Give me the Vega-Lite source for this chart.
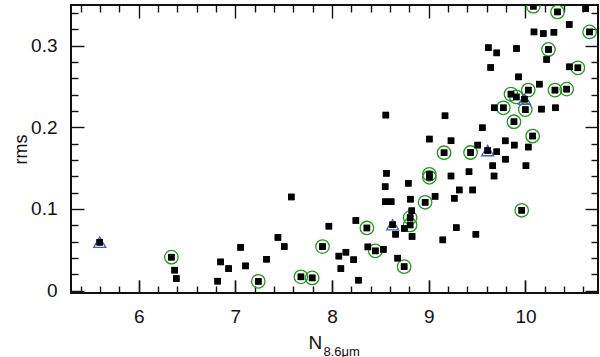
{
  "$schema": "https://vega.github.io/schema/vega-lite/v6.json",
  "width": 527,
  "height": 288,
  "autosize": {"type": "none"},
  "padding": {"left": 71, "top": 5, "right": 2, "bottom": 64},
  "config": {
    "view": {"stroke": "#111", "strokeWidth": 2},
    "font": "Liberation Sans",
    "axis": {"domain": false, "grid": false, "tickColor": "#111", "tickWidth": 1.4, "labelColor": "#111", "titleColor": "#111", "labelFont": "Liberation Sans", "titleFont": "Liberation Sans", "titleFontWeight": "normal", "zindex": 1}
  },
  "data": {"values": [
    {"x": 5.597, "y": 0.0592, "m": "t"},
    {"x": 8.626, "y": 0.0807, "m": "t"},
    {"x": 9.609, "y": 0.1716, "m": "t"},
    {"x": 9.99, "y": 0.2346, "m": "t"},
    {"x": 6.338, "y": 0.0409, "m": "c"},
    {"x": 7.237, "y": 0.0113, "m": "c"},
    {"x": 7.678, "y": 0.0168, "m": "c"},
    {"x": 7.794, "y": 0.0155, "m": "c"},
    {"x": 7.901, "y": 0.0539, "m": "c"},
    {"x": 8.36, "y": 0.0767, "m": "c"},
    {"x": 8.447, "y": 0.0486, "m": "c"},
    {"x": 8.745, "y": 0.0293, "m": "c"},
    {"x": 8.807, "y": 0.0894, "m": "c"},
    {"x": 8.807, "y": 0.0804, "m": "c"},
    {"x": 8.962, "y": 0.1082, "m": "c"},
    {"x": 9.006, "y": 0.1425, "m": "c"},
    {"x": 9.006, "y": 0.1388, "m": "c"},
    {"x": 9.158, "y": 0.1689, "m": "c"},
    {"x": 9.432, "y": 0.1692, "m": "c"},
    {"x": 9.961, "y": 0.0984, "m": "c"},
    {"x": 10.074, "y": 0.1894, "m": "c"},
    {"x": 9.881, "y": 0.2069, "m": "c"},
    {"x": 9.771, "y": 0.224, "m": "c"},
    {"x": 9.998, "y": 0.2218, "m": "c"},
    {"x": 9.85, "y": 0.2408, "m": "c"},
    {"x": 9.905, "y": 0.2373, "m": "c"},
    {"x": 10.029, "y": 0.2457, "m": "c"},
    {"x": 10.305, "y": 0.2457, "m": "c"},
    {"x": 10.426, "y": 0.2469, "m": "c"},
    {"x": 10.238, "y": 0.2955, "m": "c"},
    {"x": 10.542, "y": 0.273, "m": "c"},
    {"x": 10.663, "y": 0.317, "m": "c"},
    {"x": 10.331, "y": 0.3415, "m": "c"},
    {"x": 10.081, "y": 0.3485, "m": "c"},
    {"x": 6.372, "y": 0.025, "m": "s"},
    {"x": 6.389, "y": 0.0147, "m": "s"},
    {"x": 6.816, "y": 0.0115, "m": "s"},
    {"x": 6.847, "y": 0.0351, "m": "s"},
    {"x": 6.93, "y": 0.0269, "m": "s"},
    {"x": 7.054, "y": 0.0529, "m": "s"},
    {"x": 7.105, "y": 0.0302, "m": "s"},
    {"x": 7.322, "y": 0.0384, "m": "s"},
    {"x": 7.44, "y": 0.0651, "m": "s"},
    {"x": 7.505, "y": 0.0539, "m": "s"},
    {"x": 7.578, "y": 0.1147, "m": "s"},
    {"x": 7.967, "y": 0.0789, "m": "s"},
    {"x": 8.07, "y": 0.0422, "m": "s"},
    {"x": 8.091, "y": 0.0269, "m": "s"},
    {"x": 8.143, "y": 0.047, "m": "s"},
    {"x": 8.223, "y": 0.0378, "m": "s"},
    {"x": 8.246, "y": 0.0859, "m": "s"},
    {"x": 8.273, "y": 0.0127, "m": "s"},
    {"x": 8.37, "y": 0.0535, "m": "s"},
    {"x": 8.53, "y": 0.0504, "m": "s"},
    {"x": 8.556, "y": 0.2151, "m": "s"},
    {"x": 8.549, "y": 0.1273, "m": "s"},
    {"x": 8.562, "y": 0.1437, "m": "s"},
    {"x": 8.552, "y": 0.1089, "m": "s"},
    {"x": 8.611, "y": 0.1089, "m": "s"},
    {"x": 8.657, "y": 0.069, "m": "s"},
    {"x": 8.678, "y": 0.0397, "m": "s"},
    {"x": 8.748, "y": 0.0761, "m": "s"},
    {"x": 8.788, "y": 0.1315, "m": "s"},
    {"x": 8.81, "y": 0.112, "m": "s"},
    {"x": 8.824, "y": 0.0978, "m": "s"},
    {"x": 8.827, "y": 0.0663, "m": "s"},
    {"x": 9.065, "y": 0.1155, "m": "s"},
    {"x": 9.145, "y": 0.0621, "m": "s"},
    {"x": 9.23, "y": 0.1404, "m": "s"},
    {"x": 9.264, "y": 0.1131, "m": "s"},
    {"x": 9.315, "y": 0.1233, "m": "s"},
    {"x": 9.284, "y": 0.0771, "m": "s"},
    {"x": 9.416, "y": 0.1457, "m": "s"},
    {"x": 9.454, "y": 0.1233, "m": "s"},
    {"x": 9.487, "y": 0.069, "m": "s"},
    {"x": 9.506, "y": 0.1783, "m": "s"},
    {"x": 9.675, "y": 0.1404, "m": "s"},
    {"x": 9.703, "y": 0.1701, "m": "s"},
    {"x": 9.661, "y": 0.153, "m": "s"},
    {"x": 9.793, "y": 0.161, "m": "s"},
    {"x": 10.005, "y": 0.153, "m": "s"},
    {"x": 9.006, "y": 0.1857, "m": "s"},
    {"x": 9.23, "y": 0.1836, "m": "s"},
    {"x": 9.791, "y": 0.1835, "m": "s"},
    {"x": 9.884, "y": 0.1783, "m": "s"},
    {"x": 10.029, "y": 0.1759, "m": "s"},
    {"x": 9.168, "y": 0.2142, "m": "s"},
    {"x": 9.554, "y": 0.1995, "m": "s"},
    {"x": 9.678, "y": 0.224, "m": "s"},
    {"x": 10.165, "y": 0.2224, "m": "s"},
    {"x": 10.31, "y": 0.224, "m": "s"},
    {"x": 10.143, "y": 0.253, "m": "s"},
    {"x": 9.928, "y": 0.2619, "m": "s"},
    {"x": 9.64, "y": 0.2734, "m": "s"},
    {"x": 10.455, "y": 0.2742, "m": "s"},
    {"x": 10.219, "y": 0.2832, "m": "s"},
    {"x": 9.616, "y": 0.2977, "m": "s"},
    {"x": 9.703, "y": 0.2913, "m": "s"},
    {"x": 9.907, "y": 0.2967, "m": "s"},
    {"x": 10.088, "y": 0.317, "m": "s"},
    {"x": 10.184, "y": 0.315, "m": "s"},
    {"x": 10.294, "y": 0.3166, "m": "s"},
    {"x": 10.452, "y": 0.3261, "m": "s"},
    {"x": 10.622, "y": 0.3457, "m": "s"}
  ]},
  "resolve": {"axis": {"x": "independent", "y": "independent"}},
  "layer": [
    {
      "mark": {"type": "point", "shape": "square", "filled": true, "color": "#000", "size": 42, "opacity": 1, "clip": true},
      "encoding": {
        "x": {"field": "x", "type": "quantitative", "scale": {"domain": [5.3, 10.75], "nice": false, "zero": false},
          "axis": {"orient": "bottom", "values": [6, 7, 8, 9, 10], "ticks": true, "tickSize": -13, "labelPadding": 27, "labelFontSize": 19, "title": "N", "titleFontSize": 19, "titleX": 237, "titleY": 55, "titleAlign": "left", "titleBaseline": "alphabetic"}},
        "y": {"field": "y", "type": "quantitative", "scale": {"domain": [-0.003, 0.35], "nice": false, "zero": false},
          "axis": {"orient": "left", "values": [0, 0.1, 0.2, 0.3], "format": "~g", "ticks": false, "labelPadding": 14, "labelFontSize": 19, "title": "rms", "titleFontSize": 18, "titleAngle": 270, "titleX": -45, "titleY": 144, "titleAlign": "center", "titleBaseline": "alphabetic"}}
      }
    },
    {
      "transform": [{"filter": "datum.m == 'c'"}],
      "mark": {"type": "point", "shape": "circle", "filled": false, "color": "#1e9a1e", "strokeWidth": 1.3, "size": 182, "opacity": 1, "clip": true},
      "encoding": {
        "x": {"field": "x", "type": "quantitative", "axis": {"orient": "top", "values": [6, 7, 8, 9, 10], "labels": true, "labelPadding": 80, "ticks": true, "tickColor": "#111", "tickSize": 13, "offset": -13, "title": null}},
        "y": {"field": "y", "type": "quantitative", "axis": {"orient": "right", "values": [0, 0.1, 0.2, 0.3], "labels": true, "labelPadding": 60, "ticks": true, "tickSize": 13, "offset": -13, "title": null}}
      }
    },
    {
      "transform": [{"filter": "datum.m == 't'"}],
      "mark": {"type": "point", "shape": "triangle-up", "filled": false, "color": "#4a5cc8", "strokeWidth": 1.3, "size": 144, "opacity": 1, "clip": true},
      "encoding": {
        "x": {"field": "x", "type": "quantitative", "axis": {"orient": "top", "values": [5.4, 5.6, 5.8, 6.2, 6.4, 6.6, 6.8, 7.2, 7.4, 7.6, 7.8, 8.2, 8.4, 8.6, 8.8, 9.2, 9.4, 9.6, 9.8, 10.2, 10.4, 10.6], "labels": true, "labelPadding": 80, "ticks": true, "tickColor": "#111", "tickSize": 7, "offset": -7, "title": null}},
        "y": {"field": "y", "type": "quantitative", "axis": {"orient": "right", "values": [0.02, 0.04, 0.06, 0.08, 0.12, 0.14, 0.16, 0.18, 0.22, 0.24, 0.26, 0.28, 0.32, 0.34], "labels": true, "labelPadding": 60, "ticks": true, "tickSize": 7, "offset": -7, "title": null}}
      }
    },
    {
      "transform": [{"filter": "datum.m == 's'"}],
      "mark": {"type": "point", "shape": "square", "filled": true, "color": "#000", "size": 42, "opacity": 1, "clip": true},
      "encoding": {
        "x": {"field": "x", "type": "quantitative", "axis": {"orient": "top", "values": [6, 7, 8, 9, 10], "labels": true, "labelPadding": 400, "ticks": true, "tickColor": "#111", "tickSize": 13, "offset": -288, "title": null}},
        "y": {"field": "y", "type": "quantitative", "axis": {"orient": "right", "values": [0, 0.1, 0.2, 0.3], "labels": true, "labelPadding": 700, "ticks": true, "tickSize": 13, "offset": -527, "title": null}}
      }
    },
    {
      "transform": [{"filter": "datum.m != 's'"}],
      "mark": {"type": "point", "shape": "square", "filled": true, "color": "#000", "size": 42, "opacity": 1, "clip": true},
      "encoding": {
        "x": {"field": "x", "type": "quantitative", "axis": {"orient": "top", "values": [5.4, 5.6, 5.8, 6.2, 6.4, 6.6, 6.8, 7.2, 7.4, 7.6, 7.8, 8.2, 8.4, 8.6, 8.8, 9.2, 9.4, 9.6, 9.8, 10.2, 10.4, 10.6], "labels": true, "labelPadding": 400, "ticks": true, "tickColor": "#111", "tickSize": 7, "offset": -288, "title": null}},
        "y": {"field": "y", "type": "quantitative", "axis": {"orient": "right", "values": [0.02, 0.04, 0.06, 0.08, 0.12, 0.14, 0.16, 0.18, 0.22, 0.24, 0.26, 0.28, 0.32, 0.34], "labels": true, "labelPadding": 700, "ticks": true, "tickSize": 7, "offset": -527, "title": null}}
      }
    },
    {
      "mark": {"type": "point", "opacity": 0, "size": 1},
      "encoding": {
        "x": {"field": "x", "type": "quantitative", "axis": {"orient": "bottom", "values": [], "labels": false, "ticks": false, "title": "8.6μm", "titleFontSize": 13, "titleX": 252, "titleY": 62, "titleAlign": "left", "titleBaseline": "alphabetic"}},
        "y": {"field": "y", "type": "quantitative", "axis": null}
      }
    }
  ]
}
